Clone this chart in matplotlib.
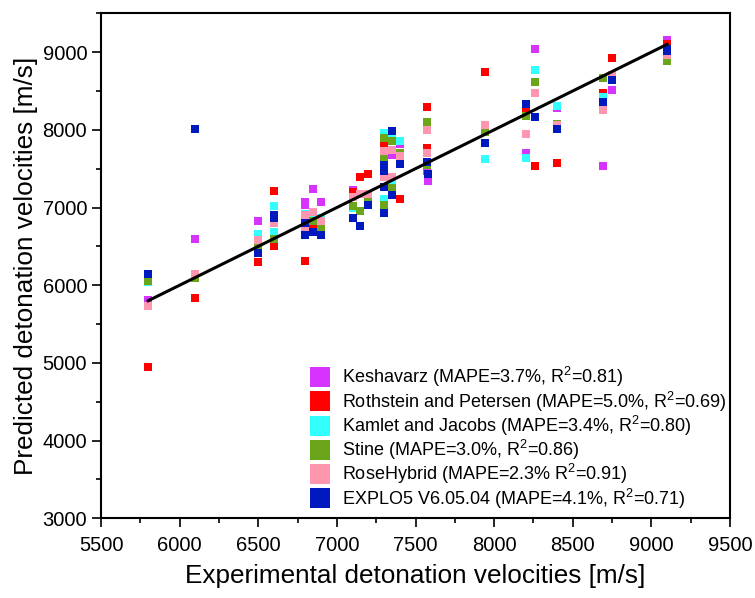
import matplotlib
matplotlib.use("Agg")
import matplotlib.pyplot as plt
from matplotlib.ticker import MultipleLocator

plt.rcParams['font.family'] = ['Liberation Sans', 'DejaVu Sans']
plt.rcParams['mathtext.fontset'] = 'custom'
plt.rcParams['mathtext.rm'] = 'Liberation Sans'

# Keshavarz
kesh_x = [5800, 6100, 6500, 6800, 6800, 6850, 6900, 7100, 7350, 7400, 7570, 7580,
          8200, 8260, 8400, 8690, 8750, 9100]
kesh_y = [5810, 6600, 6820, 7070, 7030, 7240, 7070, 7220, 7680, 7820, 7470, 7340,
          7700, 9040, 8280, 7530, 8510, 9160]

# Rothstein and Petersen
roth_x = [5800, 6100, 6500, 6600, 6600, 6800, 6850, 7100, 7150, 7200, 7300, 7400,
          7570, 7570, 7940, 8200, 8260, 8400, 8690, 8750, 9100]
roth_y = [4950, 5840, 6300, 7210, 6500, 6310, 6750, 7200, 7390, 7430, 7790, 7110,
          8300, 7770, 8740, 8230, 7530, 7570, 8470, 8930, 9100]

# Kamlet and Jacobs
kj_x = [5800, 6100, 6500, 6600, 6600, 6800, 6850, 6900, 7100, 7150, 7300, 7300,
        7350, 7350, 7400, 7940, 8200, 8260, 8400, 8690, 9100]
kj_y = [6040, 6120, 6660, 7020, 6680, 6920, 6870, 6870, 6990, 6950, 7960, 7110,
        7900, 7320, 7850, 7620, 7640, 8770, 8310, 8420, 8930]

# Stine
stine_x = [5800, 6100, 6500, 6600, 6850, 6900, 7100, 7150, 7200, 7300, 7300, 7300,
           7350, 7350, 7400, 7570, 7570, 7940, 8200, 8260, 8400, 8690, 9100]
stine_y = [6060, 6090, 6500, 6600, 6820, 6730, 7020, 6960, 7100, 7890, 7650, 7030,
           7860, 7250, 7700, 8100, 7550, 7970, 8180, 8610, 8080, 8670, 8880]

# RoseHybrid
rose_x = [5800, 6100, 6500, 6600, 6800, 6800, 6850, 6900, 7100, 7150, 7200, 7300,
          7300, 7350, 7350, 7400, 7570, 7570, 7940, 8200, 8260, 8400, 8690, 8750, 9100]
rose_y = [5730, 6150, 6580, 6800, 6900, 6730, 6940, 6830, 7130, 7180, 7180, 7730,
          7390, 7740, 7390, 7660, 8000, 7700, 8060, 7940, 8480, 8060, 8260, 8700, 8960]

# EXPLO5 V6.05.04
explo_x = [5800, 6100, 6500, 6600, 6600, 6800, 6800, 6850, 6900, 7100, 7150, 7200,
           7300, 7300, 7300, 7300, 7350, 7350, 7400, 7570, 7580, 7940, 8200, 8260,
           8400, 8690, 8750, 9100, 9100]
explo_y = [6140, 8010, 6410, 6910, 6860, 6800, 6650, 6690, 6640, 6870, 6760, 7030,
           7550, 7470, 7260, 6930, 7990, 7160, 7560, 7590, 7430, 7830, 8330, 8160,
           8010, 8360, 8640, 9040, 9010]

line_x = [5800, 9100]
line_y = [5800, 9100]

series = [
    (kesh_x, kesh_y, '#D633FF', 'Keshavarz (MAPE=3.7%, R$^2$=0.81)'),
    (roth_x, roth_y, '#FF0000', 'Rothstein and Petersen (MAPE=5.0%, R$^2$=0.69)'),
    (kj_x, kj_y, '#33FFFF', 'Kamlet and Jacobs (MAPE=3.4%, R$^2$=0.80)'),
    (stine_x, stine_y, '#6BA61A', 'Stine (MAPE=3.0%, R$^2$=0.86)'),
    (rose_x, rose_y, '#FF96B0', 'RoseHybrid (MAPE=2.3% R$^2$=0.91)'),
    (explo_x, explo_y, '#0019BF', 'EXPLO5 V6.05.04 (MAPE=4.1%, R$^2$=0.71)'),
]

fig = plt.figure(figsize=(7.55, 5.98), dpi=100)
ax = fig.add_axes([0.1338, 0.1333, 0.8331, 0.8445])

for xs, ys, col, lab in series:
    ax.plot(xs, ys, linestyle='none', marker='s', markersize=5.8, color=col,
            markeredgewidth=0, label=lab)

ax.plot(line_x, line_y, color='black', linewidth=2.2)

ax.set_xlim(5500, 9500)
ax.set_ylim(3000, 9500)
ax.xaxis.set_major_locator(MultipleLocator(500))
ax.xaxis.set_minor_locator(MultipleLocator(250))
ax.yaxis.set_major_locator(MultipleLocator(1000))
ax.yaxis.set_minor_locator(MultipleLocator(500))
ax.tick_params(which='major', direction='out', length=6.5, width=1.2, labelsize=14.5)
ax.tick_params(axis='x', which='major', pad=6)
ax.tick_params(which='minor', direction='out', length=3.5, width=1.2)
for sp in ax.spines.values():
    sp.set_linewidth(1.5)

ax.set_xlabel('Experimental detonation velocities [m/s]', fontsize=18.8, labelpad=7)
ax.set_ylabel('Predicted detonation velocities [m/s]', fontsize=18.8, labelpad=3)

leg = ax.legend(loc='center left', bbox_to_anchor=(0.335, 0.159), frameon=False,
                fontsize=13.0, markerscale=2.36, handlelength=0.95, handletextpad=0.7,
                labelspacing=0.01, borderpad=0, borderaxespad=0)

plt.savefig('out.png', dpi=100)
plt.close()
